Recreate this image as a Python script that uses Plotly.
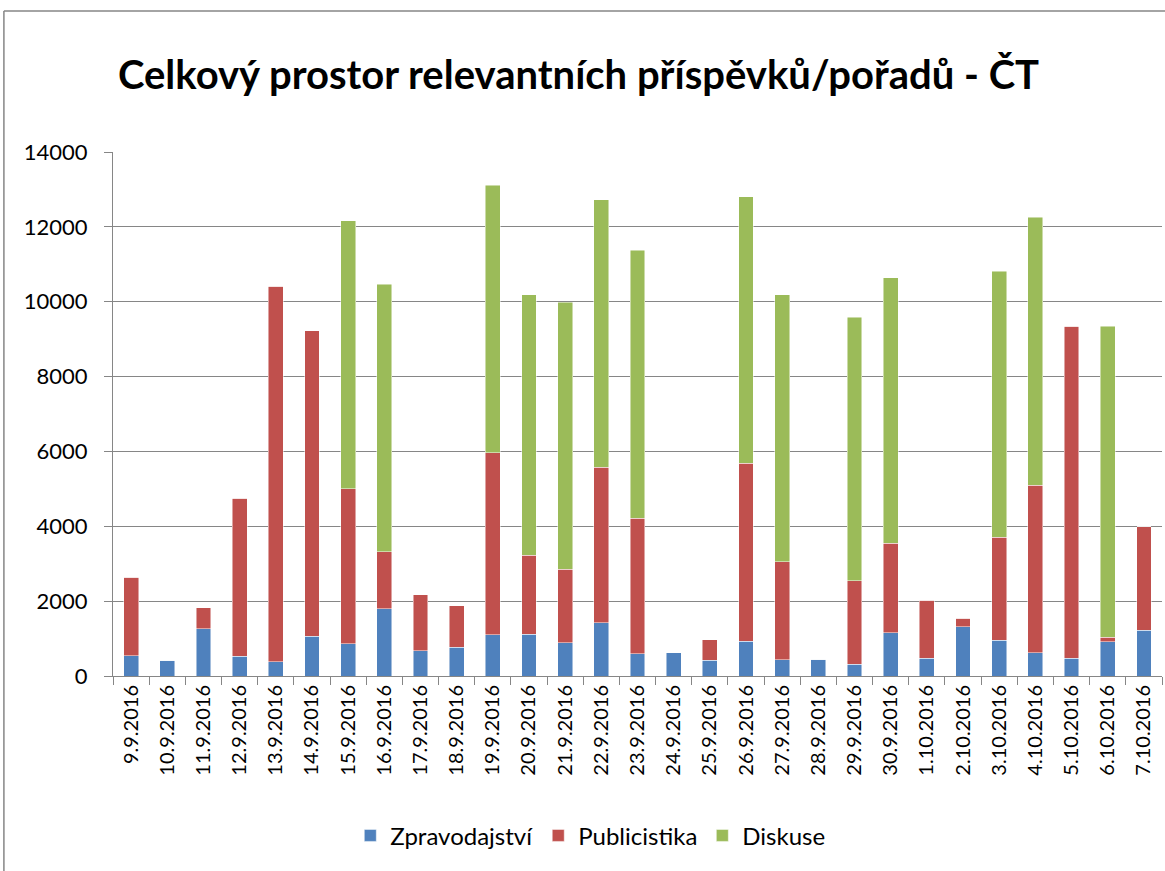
import plotly.graph_objects as go

dates = ["9.9.2016", "10.9.2016", "11.9.2016", "12.9.2016", "13.9.2016", "14.9.2016",
         "15.9.2016", "16.9.2016", "17.9.2016", "18.9.2016", "19.9.2016", "20.9.2016",
         "21.9.2016", "22.9.2016", "23.9.2016", "24.9.2016", "25.9.2016", "26.9.2016",
         "27.9.2016", "28.9.2016", "29.9.2016", "30.9.2016", "1.10.2016", "2.10.2016",
         "3.10.2016", "4.10.2016", "5.10.2016", "6.10.2016", "7.10.2016"]

zpravodajstvi = [540, 420, 1260, 525, 380, 1060, 860, 1800, 670, 765, 1100, 1120,
                 885, 1420, 600, 620, 425, 930, 440, 450, 320, 1150, 470, 1320,
                 950, 620, 480, 910, 1225]
publicistika = [2100, 0, 570, 4230, 10030, 8170, 4140, 1520, 1500, 1115, 4860, 2100,
                1970, 4160, 3620, 0, 540, 4760, 2610, 0, 2220, 2400, 1560, 220,
                2760, 4480, 8860, 120, 2760]
diskuse = [0, 0, 0, 0, 0, 0, 7160, 7150, 0, 0, 7150, 6970,
           7130, 7140, 7150, 0, 0, 7120, 7140, 0, 7050, 7090, 0, 0,
           7100, 7160, 0, 8320, 0]

yticks = [0, 2000, 4000, 6000, 8000, 10000, 12000, 14000]
yticklabels = ["0", "2000", "4000", "6000", "8000", "10000", "12000", "14000"]

series = [("Zpravodajství", zpravodajstvi, "#4F81BD"),
          ("Publicistika", publicistika, "#C0504D"),
          ("Diskuse", diskuse, "#9BBB59")]

fig = go.Figure()
for name, vals, col in series:
    fig.add_trace(go.Bar(x=dates, y=vals, name=name, marker_color=col,
                         marker_line=dict(color="rgba(255,255,255,0.6)", width=0.8)))

font_family = "Lato, 'Open Sans', sans-serif"
fig.update_layout(
    barmode="stack",
    bargap=0.59,
    width=1165, height=871,
    paper_bgcolor="white", plot_bgcolor="white",
    margin=dict(l=113, r=3, t=152, b=195, autoexpand=False),
    font=dict(family=font_family, color="black"),
    title=dict(text="<b>Celkový prostor relevantních příspěvků/pořadů - ČT</b>",
               x=0.4966, xanchor="center", y=0.914, yanchor="middle",
               font=dict(size=40, family=font_family, color="black")),
    legend=dict(orientation="h", x=0.455, xanchor="center", y=-0.305, yanchor="middle",
                font=dict(size=24), traceorder="normal", itemwidth=30),
    showlegend=True,
)
fig.update_xaxes(type="category", showline=True, linecolor="#868686", linewidth=1,
                 ticks="outside", tickson="boundaries", ticklen=8, tickcolor="#868686",
                 tickangle=-90, tickfont=dict(size=20), showgrid=False)
fig.update_yaxes(range=[0, 14000], tickvals=yticks, ticktext=yticklabels, showline=True,
                 linecolor="#868686", linewidth=1, ticks="outside", ticklen=8,
                 tickcolor="#868686", showgrid=True, gridcolor="#868686", gridwidth=1,
                 tickfont=dict(size=22), ticklabelstandoff=12, zeroline=False)

# outer chart border (partially cropped in the reference)
fig.add_shape(type="line", xref="paper", yref="paper", x0=-0.104, x1=1.2, y0=1.269, y1=1.269,
              line=dict(color="#868686", width=1.5))
fig.add_shape(type="line", xref="paper", yref="paper", x0=-0.104, x1=-0.104, y0=-1, y1=1.269,
              line=dict(color="#868686", width=1.5))

fig.write_html("out.html", config={"displayModeBar": False},
               post_script="document.body.style.margin='0';")
